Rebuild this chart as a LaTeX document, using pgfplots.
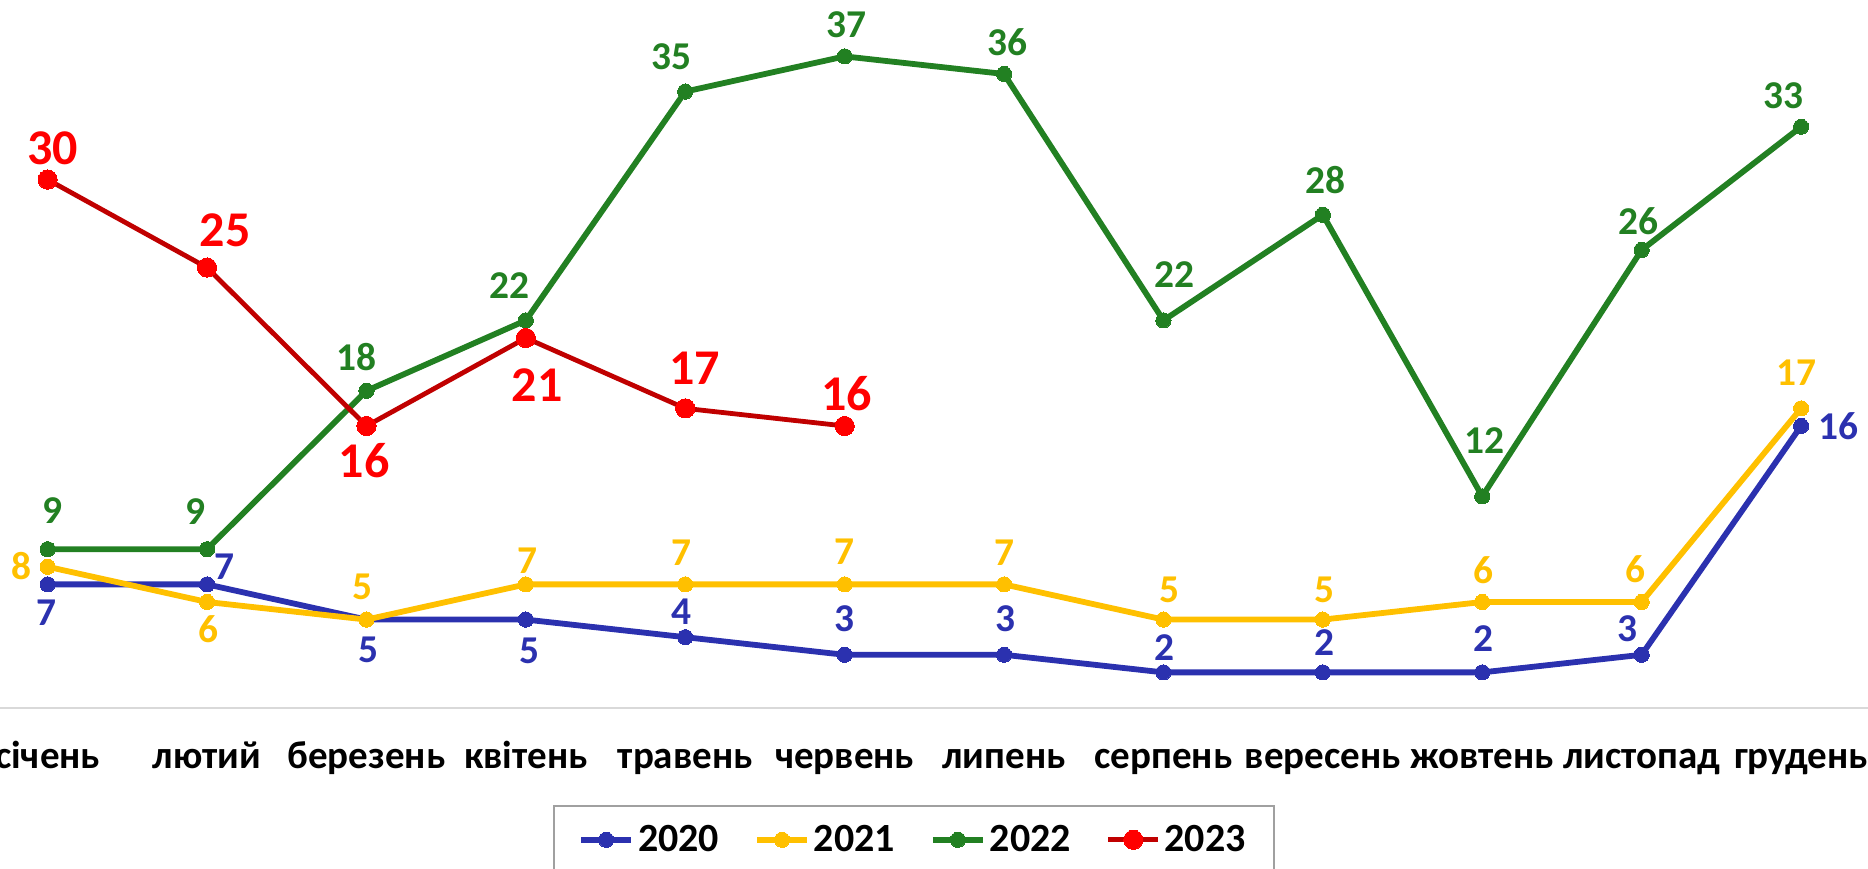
\documentclass[border=0pt]{standalone}
\usepackage{pgfplots}
\usepackage{pgfplotstable}
\usepackage{fontspec}
\setmainfont{Carlito}
\pgfplotsset{compat=1.18}
\definecolor{cBlue}{RGB}{43,49,175}
\definecolor{cYellow}{RGB}{255,192,0}
\definecolor{cGreen}{RGB}{34,128,34}
\definecolor{cRedLine}{RGB}{192,0,0}
\definecolor{cRed}{RGB}{255,0,0}
\definecolor{cAxis}{RGB}{217,217,217}

\pgfplotstableread{
x y lab dx dy
0 7 7 -0.6 -14
1 7 7 8.8 8.8
2 5 5 0.8 -15.1
3 5 5 1.9 -15.7
4 4 4 -1.9 12.5
5 3 3 0 17.9
6 3 3 0.6 17.9
7 2 2 0.6 12.5
8 2 2 0.6 15
9 2 2 0.6 16.8
10 3 3 -7.3 13.2
11 16 16 18.5 0
}\tA
\pgfplotstableread{
x y lab dx dy
0 8 8 -13 0.4
1 6 6 0.8 -13.8
2 5 5 -2.1 16.5
3 7 7 1 12
4 7 7 -1.9 15.6
5 7 7 0 16.3
6 7 7 0 15.6
7 5 5 2.9 14.7
8 5 5 0.6 14.7
9 6 6 0.7 15.7
10 6 6 -3.2 16.2
11 17 17 -2.3 18
}\tB
\pgfplotstableread{
x y lab dx dy
0 9 9 2.5 19.1
1 9 9 -5.9 18.7
2 18 18 -5 16.8
3 22 22 -8 17.4
4 35 35 -6.7 17.6
5 37 37 1 15.6
6 36 36 1.5 16.1
7 22 22 5.4 22.8
8 28 28 1.5 17.2
9 12 12 1 27.8
10 26 26 -1.5 14.5
11 33 33 -8.9 15.5
}\tC
\pgfplotstableread{
x y lab dx dy
0 30 30 2.5 15.9
1 25 25 9 18.7
2 16 16 -1.1 -17.4
3 21 21 5.7 -23.5
4 17 17 4.8 20
5 16 16 1 16.3
}\tD

\begin{document}
\begin{tikzpicture}
\begin{axis}[
  name=ax,
  scale only axis,
  width=934pt, height=352pt,
  xmin=-0.299, xmax=11.42,
  ymin=0, ymax=40,
  clip=false,
  axis x line=bottom,
  axis y line=none,
  x axis line style={-, draw=cAxis, line width=1pt},
  xtick={0,...,11},
  xticklabels={січень, лютий, березень, квітень, травень, червень, липень, серпень, вересень, жовтень, листопад, грудень},
  major tick length=0pt,
  ytick=\empty,
  xticklabel style={font=\fontsize{19.5}{22}\selectfont\bfseries, anchor=base, yshift=-30.4pt, inner sep=0pt},
  point meta=explicit symbolic,
  nodes near coords,
  visualization depends on={\thisrow{dx} \as \dx},
  visualization depends on={\thisrow{dy} \as \dy},
  every node near coord/.append style={anchor=center, inner sep=0pt, xshift=\dx pt, yshift=\dy pt, font=\fontsize{19.7}{22}\selectfont\bfseries},
  legend columns=4,
  legend image code/.code={\draw[mark repeat=2,mark phase=2,#1] plot coordinates {(0pt,0pt)(12.5pt,0pt)(25pt,0pt)};},
  legend style={at={(axis description cs:0.4893,0)}, anchor=north, yshift=-48.9pt,
    draw={rgb,255:red,160;green,160;blue,160}, line width=0.8pt,
    inner xsep=12pt, inner ysep=7.5pt,
    font=\fontsize{20}{24}\selectfont\bfseries,
    /tikz/every even column/.append style={column sep=15.5pt}},
]
\addplot[cBlue, line width=2.9pt, mark=*, mark size=3.8pt, mark options={fill=cBlue, draw=cBlue, line width=0pt},
  every node near coord/.append style={text=cBlue}]
  table[x=x, y=y, meta=lab] {\tA};
\addlegendentry{2020}
\addplot[cYellow, line width=2.9pt, mark=*, mark size=3.8pt, mark options={fill=cYellow, draw=cYellow, line width=0pt},
  every node near coord/.append style={text=cYellow}]
  table[x=x, y=y, meta=lab] {\tB};
\addlegendentry{2021}
\addplot[cGreen, line width=2.9pt, mark=*, mark size=3.8pt, mark options={fill=cGreen, draw=cGreen, line width=0pt},
  every node near coord/.append style={text=cGreen}]
  table[x=x, y=y, meta=lab] {\tC};
\addlegendentry{2022}
\addplot[cRedLine, line width=2.4pt, mark=*, mark size=4.8pt, mark options={fill=cRed, draw=cRed, line width=0pt},
  every node near coord/.append style={text=cRed, font=\fontsize{25}{28}\selectfont\bfseries}]
  table[x=x, y=y, meta=lab] {\tD};
\addlegendentry{2023}
\end{axis}
\pgfresetboundingbox
\path[use as bounding box] ([yshift=-80.7pt]ax.south west) rectangle ([yshift=1.8pt]ax.north east);
\end{tikzpicture}
\end{document}
